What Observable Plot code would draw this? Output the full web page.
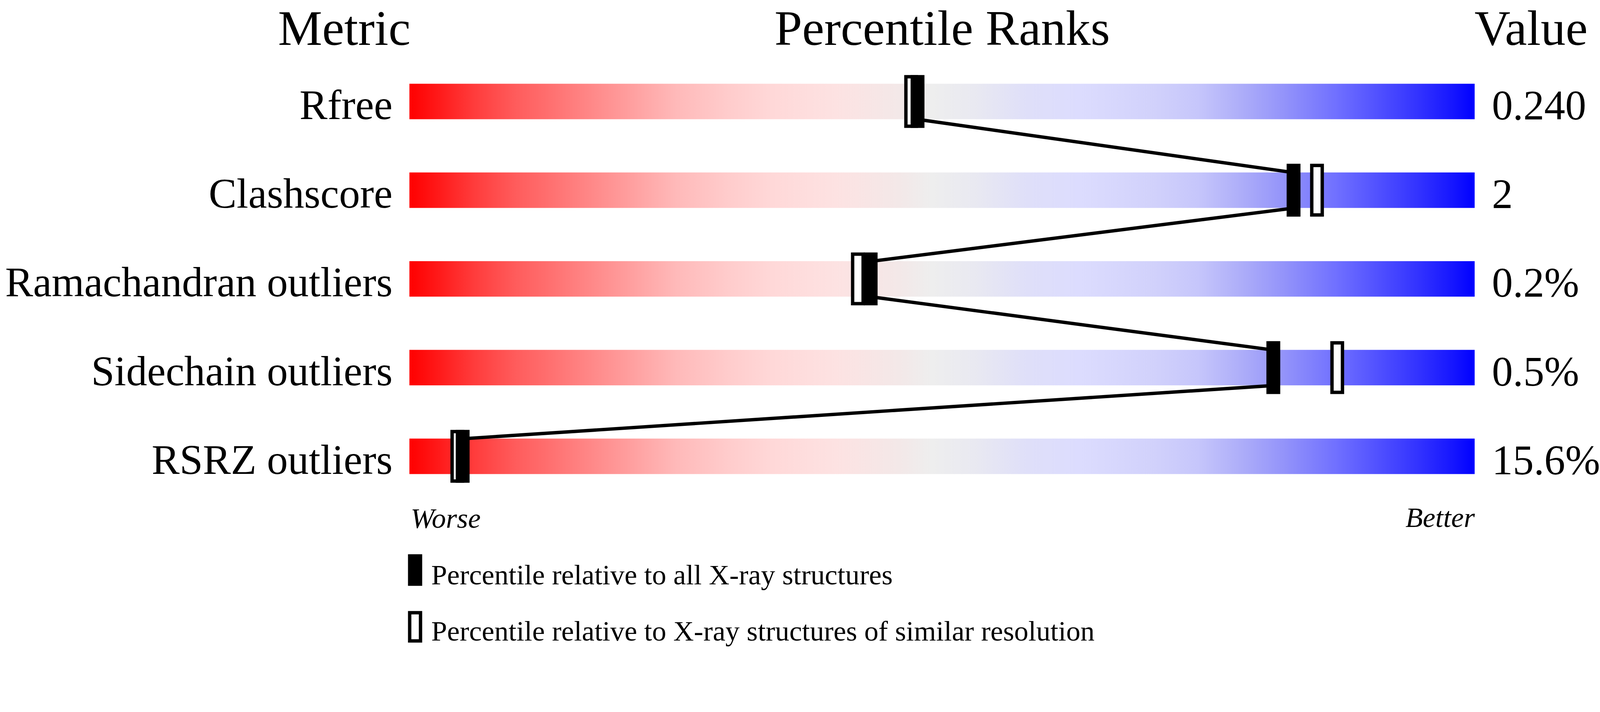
<!DOCTYPE html>
<html>
<head>
<meta charset="utf-8">
<script src="https://cdn.jsdelivr.net/npm/d3@7"></script>
<script src="https://cdn.jsdelivr.net/npm/@observablehq/plot@0.6"></script>
<style>
  html, body { margin: 0; padding: 0; background: #fff; }
  #chart svg { display: block; }
</style>
</head>
<body>
<div id="chart"></div>
<script>
// ---- data ----
const metrics = ["Rfree", "Clashscore", "Ramachandran outliers", "Sidechain outliers", "RSRZ outliers"];
const values = ["0.240", "2", "0.2%", "0.5%", "15.6%"];
const pctAll = [47.7, 83.0, 43.3, 81.1, 5.0];        // filled marker: all X-ray structures
const pctSimilar = [47.1, 85.2, 42.1, 87.1, 4.5];    // open marker: similar resolution
const headers = ["Metric", "Percentile Ranks", "Value"];
const scaleEnds = ["Worse", "Better"];
const legendLabels = [
  "Percentile relative to all X-ray structures",
  "Percentile relative to X-ray structures of similar resolution"
];
const gradientOffsets = [0, 0.03, 0.06, 0.10, 0.15, 0.19, 0.25, 0.30, 0.34, 0.40, 0.46, 0.49, 0.53, 0.58, 0.63, 0.70, 0.74, 0.78, 0.82, 0.87, 0.91, 0.95, 0.98, 1];
const gradientColors = ["#ff0000", "#ff1c1c", "#ff3b3b", "#ff5c5c", "#ff7b7b", "#ff9494", "#ffb9b9", "#ffcccc", "#ffd8d8", "#fde2e2", "#f3e8e8", "#eeeeee", "#e9e9f1", "#dfdff9", "#dcdcfe", "#d1d1fb", "#c6c6fb", "#aeaef9", "#9494fa", "#7070ff", "#5050ff", "#3030ff", "#1515ff", "#0000ff"];

// ---- derived tables ----
const rows = metrics.map((m, i) => ({metric: m, row: i, value: values[i], all: pctAll[i], similar: pctSimilar[i]}));
const links = rows.slice(1).map((d, i) => ({a: rows[i].all, ra: rows[i].row, b: d.all, rb: d.row}));

const font = "'Liberation Serif', 'Times New Roman', Times, serif";
const barHalf = 0.2, markHalfH = 0.298, markHalfW = 0.65;

function gradientDefs() {
  const ns = "http://www.w3.org/2000/svg";
  const defs = document.createElementNS(ns, "defs");
  const g = document.createElementNS(ns, "linearGradient");
  g.setAttribute("id", "pctGrad");
  g.setAttribute("x1", "0"); g.setAttribute("x2", "1");
  g.setAttribute("y1", "0"); g.setAttribute("y2", "0");
  gradientOffsets.forEach((o, i) => {
    const s = document.createElementNS(ns, "stop");
    s.setAttribute("offset", o);
    s.setAttribute("stop-color", gradientColors[i]);
    g.appendChild(s);
  });
  defs.appendChild(g);
  return defs;
}

const chart = Plot.plot({
  width: 4506,
  height: 1824,
  margin: 0,
  style: {background: "white", fontFamily: font},
  x: {domain: [0, 100], range: [1153, 4153], axis: null},
  y: {domain: [0, 4], range: [286, 1286], axis: null},
  marks: [
    gradientDefs,
    // gradient bars
    Plot.rect(rows, {x1: 0, x2: 100, y1: d => d.row - barHalf, y2: d => d.row + barHalf, fill: "url(#pctGrad)"}),
    // connecting line between "all" markers
    Plot.link(links, {x1: "a", y1: d => d.ra + barHalf, x2: "b", y2: d => d.rb - barHalf, stroke: "black", strokeWidth: 9.5}),
    // open markers (similar resolution)
    Plot.rect(rows, {x1: d => d.similar - markHalfW, x2: d => d.similar + markHalfW, y1: d => d.row - markHalfH, y2: d => d.row + markHalfH,
      fill: "white", stroke: "black", strokeWidth: 9.5, inset: 4.75}),
    // filled markers (all structures)
    Plot.rect(rows, {x1: d => d.all - markHalfW, x2: d => d.all + markHalfW, y1: d => d.row - markHalfH, y2: d => d.row + markHalfH, fill: "black"}),
    // headers
    Plot.text([headers[0]], {x: 0, dx: -184, y: -0.76, dy: 30, text: d => d, textAnchor: "middle", lineAnchor: "bottom", fontSize: 140, fill: "black"}),
    Plot.text([headers[1]], {x: 50, y: -0.76, dy: 30, text: d => d, textAnchor: "middle", lineAnchor: "bottom", fontSize: 140, fill: "black"}),
    Plot.text([headers[2]], {x: 100, dx: -1, y: -0.76, dy: 30, text: d => d, textAnchor: "start", lineAnchor: "bottom", fontSize: 140, fill: "black"}),
    // row labels and values
    Plot.text(rows, {x: 0, dx: -48, y: "row", dy: 49, text: "metric", textAnchor: "end", lineAnchor: "bottom", fontSize: 118, fill: "black"}),
    Plot.text(rows, {x: 100, dx: 48, y: "row", dy: 50, text: "value", textAnchor: "start", lineAnchor: "bottom", fontSize: 118, fill: "black"}),
    // worse / better
    Plot.text([scaleEnds[0]], {x: 0, dx: 3, y: 4.803, text: d => d, textAnchor: "start", lineAnchor: "bottom", fontSize: 80, fontStyle: "italic", fill: "black"}),
    Plot.text([scaleEnds[1]], {x: 100, y: 4.796, text: d => d, textAnchor: "end", lineAnchor: "bottom", fontSize: 80, fontStyle: "italic", fill: "black"}),
    // legend
    Plot.rect([legendLabels[0]], {x1: -0.133, x2: 1.2, y1: 5.104, y2: 5.46, fill: "black"}),
    Plot.rect([legendLabels[1]], {x1: -0.133, x2: 1.2, y1: 5.744, y2: 6.1, fill: "white", stroke: "black", strokeWidth: 9.5, inset: 4.75}),
    Plot.text([legendLabels[0]], {x: 0, dx: 61, y: 5.44, text: d => d, textAnchor: "start", lineAnchor: "bottom", fontSize: 80, fill: "black"}),
    Plot.text([legendLabels[1]], {x: 0, dx: 61, y: 6.076, text: d => d, textAnchor: "start", lineAnchor: "bottom", fontSize: 80, fill: "black"})
  ]
});
document.getElementById("chart").appendChild(chart);
</script>
</body>
</html>
